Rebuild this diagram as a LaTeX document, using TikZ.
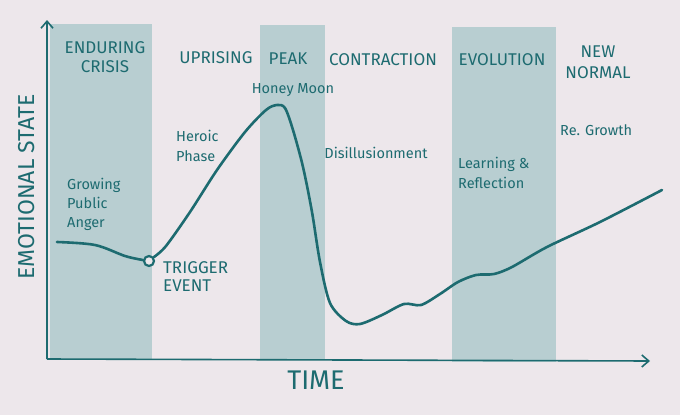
\documentclass[tikz,border=0pt]{standalone}
\usepackage{fontspec}
\setmainfont{Fira Sans}
\usetikzlibrary{arrows.meta}
\definecolor{ink}{HTML}{1D6B70}
\definecolor{band}{HTML}{B8CED1}
\definecolor{paper}{HTML}{EDE7EB}
\begin{document}
\begin{tikzpicture}[x=1pt,y=-1pt,
  head/.style={text=ink,font=\fontsize{17}{19}\selectfont,align=center,inner sep=0pt},
  note/.style={text=ink,font=\fontsize{14.5}{20}\selectfont,align=left,inner sep=0pt},
  axis/.style={draw=ink,line width=1.6pt,-{Straight Barb[length=7pt,width=12pt,line width=1.6pt]}},
  curve/.style={draw=ink,line width=2.6pt,line cap=round}]
\fill[paper] (0,0) rectangle (680,415);
\useasboundingbox (0,0) rectangle (680,415);
% bands
\fill[band] (50,24) rectangle (152,359);
\fill[band] (260,25) rectangle (325,360);
\fill[band] (452,27) rectangle (556,362);
% axes
\coordinate (o) at (47,359);
\coordinate (ytop) at (47,20);
\coordinate (xend) at (650,361);
\draw[axis] (o) -- (ytop);
\draw[axis] (o) -- (xend);
% curve
\node[circle,draw=ink,fill=paper,line width=2.2pt,minimum size=10pt,inner sep=0pt] (trig) at (149,261) {};
\draw[curve] plot[smooth,tension=0.55] coordinates {(57,242) (95,245) (125,256) (143,260)};
\draw[curve] plot[smooth,tension=0.5] coordinates {(154,257) (166,246) (190,212) (217,170) (245,132) (266,110) (277,105) (285,108) (293,130) (303,167) (312,212) (320,262) (330,303) (346,321) (360,324) (382,315) (404,304) (421,305) (440,294) (458,282) (476,275) (494,274) (512,267) (547,247) (600,222) (662,190)};
% headings
\node[head] (enduring) at (105,57) {ENDURING\\CRISIS};
\node[head] (uprising) at (216,58) {UPRISING};
\node[head] (peak) at (288,59) {PEAK};
\node[head] (contraction) at (383,60) {CONTRACTION};
\node[head] (evolution) at (502,60) {EVOLUTION};
\node[head,font=\fontsize{17}{21}\selectfont] (newnormal) at (598,62) {NEW\\NORMAL};
% notes
\node[note,align=center] (honey) at (293,90) {Honey Moon};
\node[note,anchor=west] (heroic) at (176,146) {Heroic\\Phase};
\node[note,align=center] (disill) at (376,153) {Disillusionment};
\node[note,anchor=west] (regrowth) at (560,130) {Re. Growth};
\node[note,anchor=west] (learning) at (458,173) {Learning \&\\Reflection};
\node[note,anchor=west,font=\fontsize{14.5}{19}\selectfont] (growing) at (67,204) {Growing\\Public\\Anger};
\node[head,anchor=west,align=left,font=\fontsize{17}{18}\selectfont] (trigger) at (163,277) {TRIGGER\\EVENT};
% axis labels
\node[text=ink,font=\fontsize{27}{30}\selectfont,inner sep=0pt] (time) at (316,380) {TIME};
\node[text=ink,font=\fontsize{23}{26}\selectfont,inner sep=0pt,rotate=90] (emo) at (27,187) {EMOTIONAL STATE};
\end{tikzpicture}
\end{document}
